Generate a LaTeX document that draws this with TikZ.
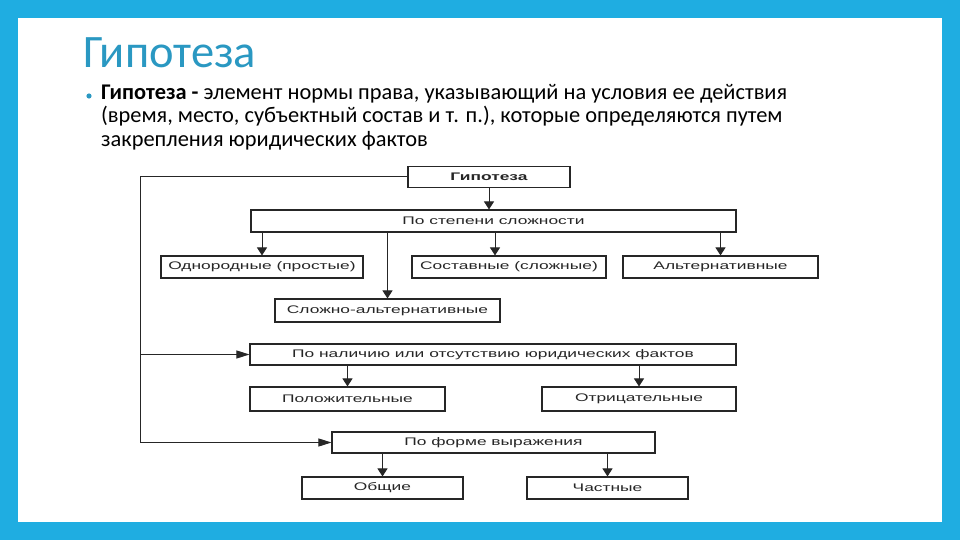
\documentclass[tikz,border=0pt]{standalone}
\usepackage{fontspec}
\setmainfont{Carlito}
\newfontfamily\boxfont[FakeStretch=1.58]{Liberation Sans}
\usetikzlibrary{arrows.meta}
\definecolor{slideblue}{HTML}{1FADE1}
\definecolor{titleblue}{HTML}{2A98C2}
\tikzset{
  txt/.style={anchor=base west, inner sep=0pt},
  box/.style={draw=black!85, line width=1.1pt, fill=white, inner sep=0pt,
    font=\boxfont\fontsize{11}{13}\selectfont, text=black!85},
  arr/.style={line width=1pt, draw=black!85, -{Triangle[length=8pt,width=10pt]}},
  harr/.style={line width=1pt, draw=black!85, -{Triangle[length=13pt,width=8pt]}},
}
\begin{document}
\begin{tikzpicture}[x=1pt,y=-1pt]
  % SLIDE
  \fill[slideblue] (0,0) rectangle (960,540);
  \fill[white] (18,18) rectangle (942,522);

  % TITLE AND TEXT
  \node[txt, text=titleblue, font=\fontsize{46.5}{52}\selectfont] (title) at (83,68) {Гипотеза};
  \fill[titleblue] (89,96) circle (2.6pt);
  \node[txt, font=\fontsize{22.4}{24}\selectfont] (def1) at (101,100)
    {\textbf{Гипотеза -} элемент нормы права, указывающий на условия ее действия};
  \node[txt, font=\fontsize{22.4}{24}\selectfont] (def2) at (101,123)
    {(время, место, субъектный состав и т. п.), которые определяются путем};
  \node[txt, font=\fontsize{22.4}{24}\selectfont] (def3) at (101,147)
    {закрепления юридических фактов};

  % BOXES
  \node[box, minimum width=162pt, minimum height=21pt, font=\boxfont\bfseries\fontsize{11}{13}\selectfont] (hyp) at (489,177) {Гипотеза};
  \node[box, minimum width=485pt, minimum height=22pt] (slozh) at (493.5,221) {По степени сложности};
  \node[box, minimum width=202pt, minimum height=22pt] (odnor) at (262,267) {Однородные (простые)};
  \node[box, minimum width=194pt, minimum height=22pt] (sost) at (509,267) {Составные (сложные)};
  \node[box, minimum width=195pt, minimum height=22pt] (alt) at (720.5,267) {Альтернативные};
  \node[box, minimum width=225pt, minimum height=23pt] (slalt) at (387.5,310.5) {Сложно-альтернативные};
  \node[box, minimum width=486pt, minimum height=21pt] (nalich) at (493,354.5) {По наличию или отсутствию юридических фактов};
  \node[box, minimum width=195pt, minimum height=24pt] (polozh) at (347.5,399) {Положительные};
  \node[box, minimum width=194pt, minimum height=24pt] (otric) at (639,399) {Отрицательные};
  \node[box, minimum width=323pt, minimum height=21pt] (forma) at (493.5,442.5) {По форме выражения};
  \node[box, minimum width=161pt, minimum height=22pt] (obsh) at (382.5,488) {Общие};
  \node[box, minimum width=161pt, minimum height=22pt] (chast) at (607.5,488) {Частные};

  % ARROWS
  \coordinate (sost in) at ([xshift=-14pt]sost.north);
  \coordinate (bus) at (140,177);
  \draw[arr] (hyp.south) -- (hyp.south |- slozh.north);
  \draw[arr] (slozh.south -| odnor.north) -- (odnor.north);
  \draw[arr] (slozh.south -| slalt.north) -- (slalt.north);
  \draw[arr] (slozh.south -| sost in) -- (sost in);
  \draw[arr] (slozh.south -| alt.north) -- (alt.north);
  \draw[arr] (nalich.south -| polozh.north) -- (polozh.north);
  \draw[arr] (nalich.south -| otric.north) -- (otric.north);
  \draw[arr] (forma.south -| obsh.north) -- (obsh.north);
  \draw[arr] (forma.south -| chast.north) -- (chast.north);
  \draw[harr] (hyp.west) -- (bus) |- (forma.west);
  \draw[harr] (bus |- nalich.west) -- (nalich.west);
\end{tikzpicture}
\end{document}
